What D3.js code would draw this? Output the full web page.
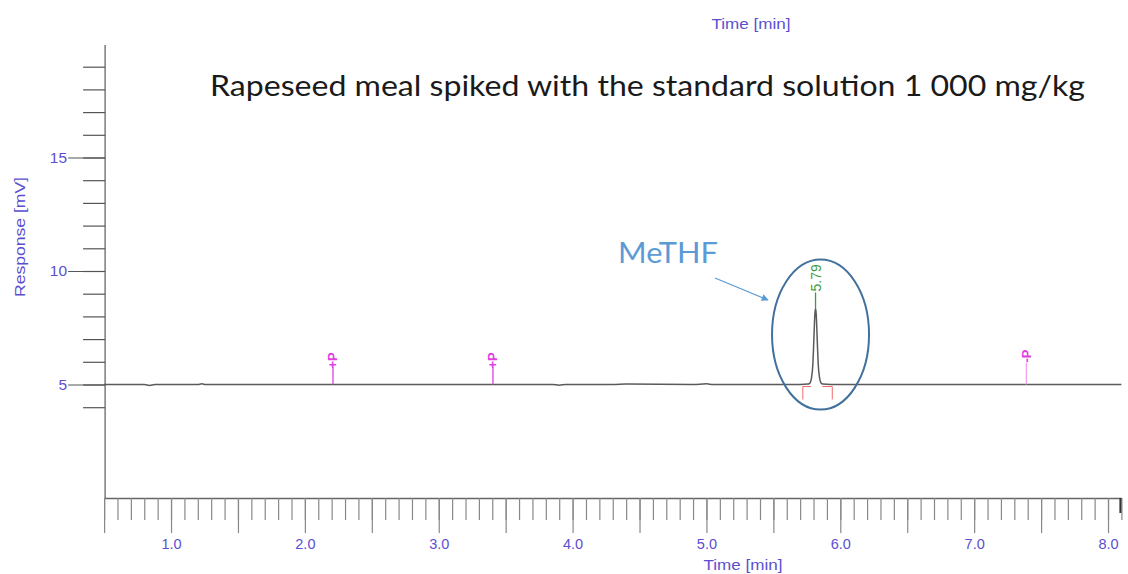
<!DOCTYPE html>
<html>
<head>
<meta charset="utf-8">
<script src="https://cdn.jsdelivr.net/npm/d3@7/dist/d3.min.js"></script>
<style>
  html, body { margin: 0; padding: 0; background: #fff; }
  svg { display: block; }
</style>
</head>
<body>
<svg id="chart" width="1128" height="574"></svg>
<script>
// ---- data ----
const traceTime = [0.5, 0.8, 0.84, 0.88, 1.2, 1.23, 1.26, 2.0, 2.5, 3.0, 3.5, 3.85, 3.9, 3.95, 4.3, 4.4, 4.9, 5.0, 5.05, 5.5,
  5.70, 5.76, 5.775, 5.785, 5.795, 5.80, 5.805, 5.81, 5.815, 5.82, 5.825, 5.83, 5.835, 5.845, 5.855, 5.87, 5.93,
  6.5, 7.0, 7.5, 8.1];
const traceResponse = [5.0, 5.0, 4.96, 5.0, 5.0, 5.03, 5.0, 5.0, 5.0, 5.0, 5.0, 5.0, 4.97, 5.0, 5.0, 5.02, 5.0, 5.03, 5.0, 5.0,
  5.0, 5.02, 5.08, 5.3, 5.9, 6.6, 7.4, 8.1, 8.35, 8.1, 7.4, 6.6, 5.9, 5.3, 5.08, 5.02, 5.0,
  5.0, 5.0, 5.0, 5.0];

const peakTime = 5.815;
const peakValue = 8.35;
const peakLabel = "5.79";
const peakStart = 5.72;
const peakEnd = 5.94;

const markerTimes = [2.21, 3.405, 7.39];
const markerLabels = ["+P", "+P", "-P"];

const xMinorTicks = d3.range(5, 82).map(d => d / 10);
const xMajorTicks = d3.range(1, 17).map(d => d / 2);
const xTickLabels = ["1.0", "2.0", "3.0", "4.0", "5.0", "6.0", "7.0", "8.0"];
const yMinorTicks = d3.range(4, 20);
const yMajorTicks = [5, 10, 15];

const titleText = "Rapeseed meal spiked with the standard solution 1 000 mg/kg";
const xAxisTitle = "Time [min]";
const yAxisTitle = "Response [mV]";
const compoundName = "MeTHF";

// ---- scales ----
const svg = d3.select("#chart");
const x = d3.scaleLinear().domain([0.5, 8.1]).range([104.1, 1121.4]);
const y = d3.scaleLinear().domain([0, 20]).range([498, 44]);

const axisColor = "#666";
const labelColor = "#5b4fd0";

// ---- x axis ----
const gx = svg.append("g").attr("transform", `translate(0,${y(0)})`);
gx.append("g")
  .call(d3.axisBottom(x).tickValues(xMinorTicks).tickSize(22).tickSizeOuter(0).tickFormat(""))
  .call(g => g.select(".domain").attr("stroke", axisColor).attr("stroke-width", 1.3))
  .call(g => g.selectAll(".tick line").attr("stroke", "#888").attr("stroke-width", 1.2));
gx.append("g")
  .call(d3.axisBottom(x).tickValues(xMajorTicks).tickSize(35).tickPadding(6)
    .tickFormat(d => Number.isInteger(d) ? xTickLabels[d - 1] : ""))
  .call(g => g.select(".domain").remove())
  .call(g => g.selectAll(".tick line").attr("stroke", "#888").attr("stroke-width", 1.2))
  .call(g => g.selectAll(".tick text").attr("fill", labelColor)
    .attr("font-family", "Liberation Sans, Arial, sans-serif").attr("font-size", 14.5));
// right end mark
svg.append("line")
  .attr("x1", x(8.1) - 1).attr("x2", x(8.1) - 1)
  .attr("y1", y(0)).attr("y2", y(0) + 15)
  .attr("stroke", "#333").attr("stroke-width", 2);

// ---- y axis ----
const gy = svg.append("g").attr("transform", `translate(${x(0.5) + 1},0)`);
gy.append("g")
  .call(d3.axisLeft(y).tickValues(yMinorTicks).tickSize(22).tickSizeOuter(0).tickFormat(""))
  .call(g => g.select(".domain").attr("d", `M0,${y(0)}V${y(19.96)}`).attr("stroke", axisColor).attr("stroke-width", 1.3))
  .call(g => g.selectAll(".tick line").attr("stroke", "#555").attr("stroke-width", 1.2));
gy.append("g")
  .call(d3.axisLeft(y).tickValues(yMajorTicks).tickSize(37).tickPadding(1))
  .call(g => g.select(".domain").remove())
  .call(g => g.selectAll(".tick line").attr("stroke", "#555").attr("stroke-width", 1.2))
  .call(g => g.selectAll(".tick text").attr("fill", labelColor)
    .attr("font-family", "Liberation Sans, Arial, sans-serif").attr("font-size", 15.5));

// ---- axis titles ----
svg.append("text")
  .attr("x", 743).attr("y", 570).attr("text-anchor", "middle")
  .attr("font-family", "Liberation Sans, Arial, sans-serif").attr("font-size", 15)
  .attr("fill", labelColor).attr("textLength", 79).attr("lengthAdjust", "spacingAndGlyphs")
  .text(xAxisTitle);
svg.append("text")
  .attr("x", 751).attr("y", 29).attr("text-anchor", "middle")
  .attr("font-family", "Liberation Sans, Arial, sans-serif").attr("font-size", 15)
  .attr("fill", labelColor).attr("textLength", 79).attr("lengthAdjust", "spacingAndGlyphs")
  .text(xAxisTitle);
svg.append("text")
  .attr("transform", "translate(25,237) rotate(-90)")
  .attr("text-anchor", "middle")
  .attr("font-family", "Liberation Sans, Arial, sans-serif").attr("font-size", 15)
  .attr("fill", labelColor).attr("textLength", 120).attr("lengthAdjust", "spacingAndGlyphs")
  .text(yAxisTitle);

// ---- title ----
svg.append("text")
  .attr("x", 210).attr("y", 96)
  .attr("font-family", "Lato, Open Sans, sans-serif").attr("font-size", 29)
  .attr("fill", "#1a1a1a").attr("textLength", 875).attr("lengthAdjust", "spacingAndGlyphs")
  .text(titleText);

// ---- trace ----
const traceData = traceTime.map((t, i) => [t, traceResponse[i]]);
svg.append("path")
  .datum(traceData)
  .attr("fill", "none").attr("stroke", "#5a5a5a").attr("stroke-width", 1.5)
  .attr("d", d3.line().x(d => x(d[0])).y(d => y(d[1])).curve(d3.curveMonotoneX));

// ---- peak markers ----
const baseY = y(5);
svg.append("line")
  .attr("x1", x(peakTime)).attr("x2", x(peakTime))
  .attr("y1", y(peakValue)).attr("y2", y(peakValue) - 16)
  .attr("stroke", "#3c9c3c").attr("stroke-width", 1.3);
svg.append("text")
  .attr("transform", `translate(${x(peakTime) + 5},${y(peakValue) - 17}) rotate(-90)`)
  .attr("font-family", "Liberation Sans, Arial, sans-serif").attr("font-size", 14)
  .attr("fill", "#3c9c3c").text(peakLabel);
// integration marks
svg.append("path")
  .attr("fill", "none").attr("stroke", "#f06a6a").attr("stroke-width", 1)
  .attr("d", `M${x(peakStart) + 8},${baseY + 2}H${x(peakStart)}V${baseY + 15}`);
svg.append("path")
  .attr("fill", "none").attr("stroke", "#f06a6a").attr("stroke-width", 1)
  .attr("d", `M${x(peakEnd) - 10},${baseY + 2}H${x(peakEnd)}V${baseY + 15}`);

// ---- P markers ----
markerTimes.forEach((t, i) => {
  const light = markerLabels[i] === "-P";
  svg.append("line")
    .attr("x1", x(t)).attr("x2", x(t))
    .attr("y1", baseY).attr("y2", baseY - (light ? 22 : 18))
    .attr("stroke", light ? "#f2a0f2" : "#e040e0").attr("stroke-width", 1.3);
  svg.append("text")
    .attr("transform", `translate(${x(t) + 4.5},${baseY - (light ? 22 : 16)}) rotate(-90)`)
    .attr("font-family", "Liberation Sans, Arial, sans-serif").attr("font-size", 13)
    .attr("font-weight", "bold")
    .attr("fill", "#e040e0").text(markerLabels[i]);
});

// ---- annotation ----
svg.append("ellipse")
  .attr("cx", x(peakTime) + 5).attr("cy", y(7.2))
  .attr("rx", 48.5).attr("ry", 75)
  .attr("fill", "none").attr("stroke", "#41719c").attr("stroke-width", 2);
svg.append("text")
  .attr("x", 618).attr("y", 263)
  .attr("font-family", "Lato, Open Sans, sans-serif").attr("font-size", 28)
  .attr("fill", "#5b9bd5").attr("textLength", 100).attr("lengthAdjust", "spacingAndGlyphs")
  .text(compoundName);
svg.append("defs").append("marker")
  .attr("id", "ah").attr("viewBox", "0 0 10 10").attr("refX", 9).attr("refY", 5)
  .attr("markerWidth", 8).attr("markerHeight", 7).attr("markerUnits", "userSpaceOnUse")
  .attr("orient", "auto")
  .append("path").attr("d", "M0,0L10,5L0,10z").attr("fill", "#5b9bd5");
svg.append("line")
  .attr("x1", 715).attr("y1", 278).attr("x2", 768).attr("y2", 300)
  .attr("stroke", "#5b9bd5").attr("stroke-width", 1.3).attr("marker-end", "url(#ah)");
</script>
</body>
</html>
